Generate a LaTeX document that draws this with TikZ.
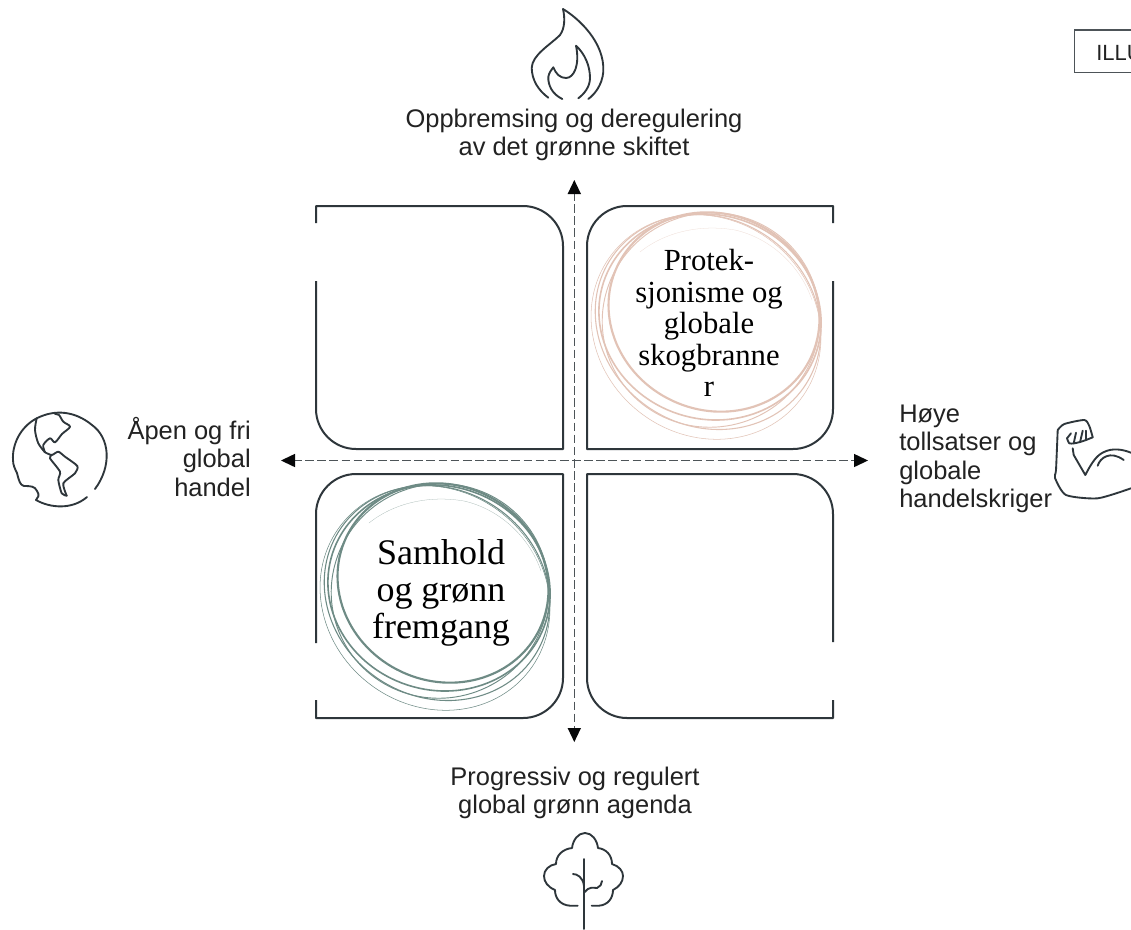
\documentclass[tikz,border=0pt]{standalone}
\usepackage{fontspec}
\setmainfont{Liberation Sans}
\newfontfamily\serifface{Liberation Serif}
\definecolor{ink}{HTML}{2E363B}
\definecolor{txt}{HTML}{222222}
\definecolor{rosec}{HTML}{E2C3B6}
\definecolor{tealc}{HTML}{6E8B85}
\newcommand{\scribble}{%
  \draw[line width=1.6pt] (714,312) ellipse[x radius=107,y radius=98,rotate=-25];
  \draw[line width=1.2pt] (710,317) ellipse[x radius=112,y radius=102,rotate=-18];
  \draw[line width=0.8pt] (708,322) ellipse[x radius=116,y radius=104,rotate=-32];
  \draw[line width=0.7pt] (711,320) ellipse[x radius=109,y radius=107,rotate=20];
  \draw[line width=0.4pt] (706,327) ellipse[x radius=119,y radius=108,rotate=-38];
  \draw[line width=0.2pt,opacity=.6] (640,252) .. controls (665,232) and (700,224) .. (735,230) .. controls (770,238) and (800,265) .. (812,300);
}
\tikzset{
  px/.style={x=0.75pt,y=-0.75pt},
  frame/.style={draw=ink,line width=1.5pt,line join=round},
  icon/.style={draw=ink,line width=1.4pt,line cap=round,line join=round},
  axis/.style={draw=ink!85,line width=0.9pt,dash pattern=on 6.5pt off 2.6pt},
  tipfill/.style={fill=black!85!ink,draw=none},
  lab/.style={text=txt,font=\fontsize{19.1pt}{21.2pt}\selectfont,inner sep=0pt},
  big/.style={text=black,inner sep=0pt,align=center},
}
\begin{document}
\begin{tikzpicture}[px]
\useasboundingbox[fill=white] (0,0) rectangle (1131,929);
% frames
\draw[frame] (316,223) -- (316,206) -- (523,206) .. controls (545,206) and (563,224) .. (563,246) -- (563,449) -- (356,449) .. controls (334,449) and (316,431) .. (316,409) -- (316,281);
\draw[frame] (833,223) -- (833,206) -- (627,206) .. controls (605,206) and (587,224) .. (587,246) -- (587,449) -- (793,449) .. controls (815,449) and (833,431) .. (833,409) -- (833,281);
\draw[frame] (316,643) -- (316,514) .. controls (316,492) and (334,474) .. (356,474) -- (563,474) -- (563,678) .. controls (563,700) and (545,718) .. (523,718) -- (316,718) -- (316,700);
\draw[frame] (833,642) -- (833,514) .. controls (833,492) and (815,474) .. (793,474) -- (587,474) -- (587,678) .. controls (587,700) and (605,718) .. (627,718) -- (833,718) -- (833,700);
% axes
\coordinate (ctop) at (574.3,192);
\coordinate (cbot) at (574.3,730);
\coordinate (cleft) at (293,460.5);
\coordinate (cright) at (856,460.5);
\draw[axis] (ctop) -- (cbot);
\draw[axis] (cleft) -- (cright);
\fill[tipfill] (574.3,180) -- (567.6,194) -- (581,194) -- cycle;
\fill[tipfill] (574.3,742) -- (567.6,728) -- (581,728) -- cycle;
\fill[tipfill] (281,460.5) -- (295,453.8) -- (295,467.2) -- cycle;
\fill[tipfill] (868,460.5) -- (854,453.8) -- (854,467.2) -- cycle;
% circles
\begin{scope}[draw=rosec]
\scribble
\end{scope}
\begin{scope}[draw=tealc,shift={(-271,271)}]
\scribble
\end{scope}
% big labels
\node[big,font=\serifface\fontsize{23pt}{23.6pt}\selectfont] (prot) at (709,323) {Protek-\\sjonisme og\\globale\\skogbranne\\r};
\node[big,font=\serifface\fontsize{27pt}{27.5pt}\selectfont] (sam) at (441,593) {Samhold\\og grønn\\fremgang};
% side labels
\node[lab,align=center] (top) at (574,135) {Oppbremsing og deregulering\\av det grønne skiftet};
\node[lab,align=center] (bot) at (575,793) {Progressiv og regulert\\global grønn agenda};
\node[lab,align=right,anchor=east] (lft) at (251,457) {Åpen og fri\\global\\handel};
\node[lab,align=left,anchor=west] (rgt) at (899,459) {Høye\\tollsatser og\\globale\\handelskriger};
% ILLU box
\begin{scope}
\clip (0,0) rectangle (1131,929);
\draw[draw=ink!85,line width=0.8pt] (1131,30) -- (1074.5,30) -- (1074.5,72.5) -- (1131,72.5);
\node[text=txt,anchor=west,inner sep=0pt,font=\fontsize{16.5pt}{18pt}\selectfont] (illu) at (1096,53) {ILLU};
\end{scope}
% flame
\draw[icon] (548.3,97.7) .. controls (538,90) and (532,80) .. (531.7,68) .. controls (532,55) and (550,45) .. (560,35) .. controls (565,28) and (565,18) .. (563,9) .. controls (578,18) and (605,42) .. (603.3,72) .. controls (602,85) and (595,94) .. (588.3,99);
\draw[icon] (562.3,99) .. controls (552,94) and (548,85) .. (548.3,77) .. controls (549,73) and (551,70) .. (553.3,67.3) .. controls (556,74) and (560,78) .. (566,78) .. controls (574,78) and (580,65) .. (576,45.7) .. controls (585,54) and (590,66) .. (590,78) .. controls (590,87) and (584,94) .. (578.3,98.3);
% tree
\draw[icon] (584.3,859) -- (584.3,929);
\draw[icon] (584,886) .. controls (583,877) and (577,874) .. (573,874);
\draw[icon] (585,892) .. controls (589,886) and (594,888) .. (597,888) .. controls (600,887) and (602,884) .. (602,881);
\draw[icon] (577.7,905.7) -- (570,905.7) .. controls (560,905) and (555,898) .. (555,890) .. controls (548,887) and (544,882) .. (544,876) .. controls (544,870) and (549,865) .. (556,864) .. controls (556,855) and (563,849) .. (572,848) .. controls (573,840) and (578,833) .. (585,833) .. controls (592,833) and (597,840) .. (598,848) .. controls (606,849) and (612,855) .. (612,864) .. controls (619,866) and (623,871) .. (623,876) .. controls (623,882) and (619,887) .. (613,890) .. controls (613,898) and (608,905) .. (599,905.7) -- (591.7,905.7);
% globe
\draw[icon] (95,489) .. controls (112,466) and (110,438) .. (92,425) .. controls (75,411) and (55,409) .. (36.7,418.3) .. controls (20,427) and (12,445) .. (13,460) .. controls (13,465) and (15,469) .. (17,473) .. controls (19,481) and (20,485) .. (24,486) .. controls (30,486) and (35,486) .. (37,491) .. controls (40,495) and (38,498) .. (36,500) .. controls (50,508) and (72,510) .. (87,497);
\draw[icon] plot[smooth,tension=.5] coordinates {(36.7,418.3) (35,430) (38.3,443.3) (45,452.3)};
\draw[icon] plot[smooth,tension=.5] coordinates {(45,452.3) (43.3,445) (50,438.3) (55,442.3) (62,434) (70,426.7) (63.3,421.7) (59,415) (55,414)};
\draw[icon] plot[smooth,tension=.4] coordinates {(45,452.3) (51.7,455) (58.3,451.7) (65,456.7) (77.3,466) (75,473.3) (63.3,483.3) (66.7,495.7)};
\draw[icon] plot[smooth,tension=.4] coordinates {(66.7,495.7) (61.7,493.3) (58.3,480) (60,471.7) (50,458.3) (51.7,455)};
% arm
\draw[icon] plot[smooth,tension=.4] coordinates {(1057.7,430) (1064.3,424) (1084.3,420) (1089.3,426) (1092.7,437.3)};
\draw[icon] plot[smooth,tension=.4] coordinates {(1057.7,430) (1056,470) (1055,478) (1066,495) (1097.7,498.3) (1131,488.3)};
\draw[icon] (1072.7,448.3) -- (1073.7,455) -- (1085.3,475) .. controls (1092,462) and (1097,455) .. (1104,452) .. controls (1112,448) and (1122,449) .. (1131,452.7);
\draw[icon] (1097.7,465.7) .. controls (1100,458) and (1110,450) .. (1123.7,460);
\draw[icon] plot[smooth,tension=.4] coordinates {(1067,438.3) (1069.3,443.3) (1074.3,443.3) (1081,441.7) (1086,440) (1092.7,437.3)};
\draw[icon] (1067,438.3) -- (1071,433.3);
\draw[icon] (1073.7,443.3) -- (1076,432.7);
\draw[icon] (1080,442.3) -- (1082.7,430.7);
\draw[icon] (1086,440) -- (1086,430.7);
\end{tikzpicture}
\end{document}
